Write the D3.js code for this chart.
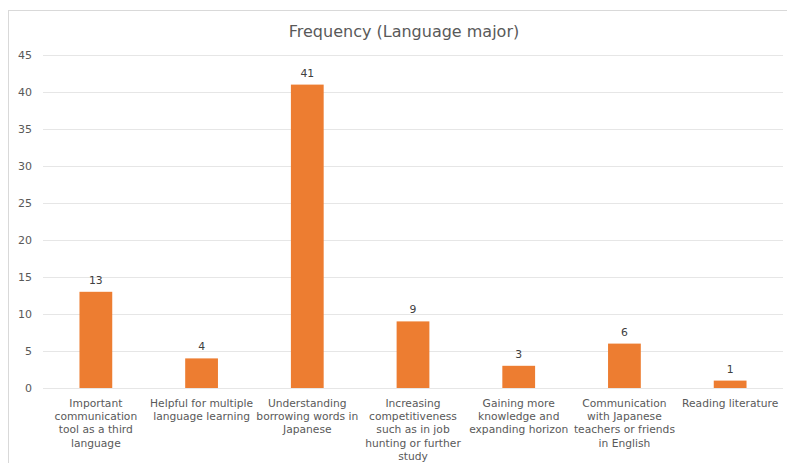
<!DOCTYPE html>
<html>
<head>
<meta charset="utf-8">
<script src="https://cdn.jsdelivr.net/npm/d3@7/dist/d3.min.js"></script>
<style>
  html, body { margin: 0; padding: 0; background: #fff; }
  svg { display: block; font-family: "DejaVu Sans", "Open Sans", sans-serif; }
</style>
</head>
<body>
<svg id="chart" width="787" height="463"></svg>
<script>
const categories = [
  ["Important", "communication", "tool as a third", "language"],
  ["Helpful for multiple", "language learning"],
  ["Understanding", "borrowing words in", "Japanese"],
  ["Increasing", "competitiveness", "such as in job", "hunting or further", "study"],
  ["Gaining more", "knowledge and", "expanding horizon"],
  ["Communication", "with Japanese", "teachers or friends", "in English"],
  ["Reading literature"]
];
const frequency = [13, 4, 41, 9, 3, 6, 1];
const yTicks = [0, 5, 10, 15, 20, 25, 30, 35, 40, 45];
const title = "Frequency (Language major)";

const svg = d3.select("#chart");
const plot = { left: 43, right: 783, top: 55, bottom: 388 };
const textColor = "#595959";

// chart frame
svg.append("rect")
  .attr("x", 8.5).attr("y", 10.5)
  .attr("width", 790).attr("height", 470)
  .attr("fill", "#fff").attr("stroke", "#d9d9d9");

const x = d3.scaleBand()
  .domain(d3.range(categories.length))
  .range([plot.left, plot.right])
  .padding(0);

const y = d3.scaleLinear()
  .domain([0, 45])
  .range([plot.bottom, plot.top]);

// gridlines
svg.append("g")
  .selectAll("line")
  .data(yTicks)
  .join("line")
  .attr("x1", plot.left).attr("x2", plot.right)
  .attr("y1", d => Math.round(y(d)) + 0.5)
  .attr("y2", d => Math.round(y(d)) + 0.5)
  .attr("stroke", "#e6e6e6")
  .attr("stroke-width", 1);

// y axis labels
const yAxis = d3.axisLeft(y).tickValues(yTicks).tickSize(0).tickPadding(0);
const yg = svg.append("g")
  .attr("transform", `translate(${plot.left - 11},0)`)
  .call(yAxis);
yg.select(".domain").remove();
yg.selectAll("text")
  .attr("fill", textColor)
  .attr("font-size", 11)
  .attr("font-family", "'DejaVu Sans', sans-serif");

// bars
const barW = x.bandwidth() * 0.31;
svg.append("g")
  .selectAll("rect")
  .data(frequency)
  .join("rect")
  .attr("x", (d, i) => x(i) + x.bandwidth() / 2 - barW / 2)
  .attr("y", d => y(d))
  .attr("width", barW)
  .attr("height", d => y(0) - y(d))
  .attr("fill", "#ed7d31");

// value labels
svg.append("g")
  .selectAll("text")
  .data(frequency)
  .join("text")
  .attr("x", (d, i) => x(i) + x.bandwidth() / 2)
  .attr("y", d => y(d) - 8)
  .attr("text-anchor", "middle")
  .attr("fill", "#404040")
  .attr("font-size", 10.8)
  .text(d => d);

// category labels, one tspan per line
const cat = svg.append("g")
  .selectAll("text")
  .data(categories)
  .join("text")
  .attr("x", (d, i) => x(i) + x.bandwidth() / 2)
  .attr("y", plot.bottom + 18.5)
  .attr("text-anchor", "middle")
  .attr("fill", textColor)
  .attr("font-size", 10.7);
cat.selectAll("tspan")
  .data(d => d)
  .join("tspan")
  .attr("x", function () { return d3.select(this.parentNode).attr("x"); })
  .attr("dy", (d, i) => i === 0 ? 0 : 13.4)
  .text(d => d);

// title
svg.append("text")
  .attr("x", 404)
  .attr("y", 36.5)
  .attr("text-anchor", "middle")
  .attr("fill", textColor)
  .attr("font-size", 16)
  .text(title);
</script>
</body>
</html>
